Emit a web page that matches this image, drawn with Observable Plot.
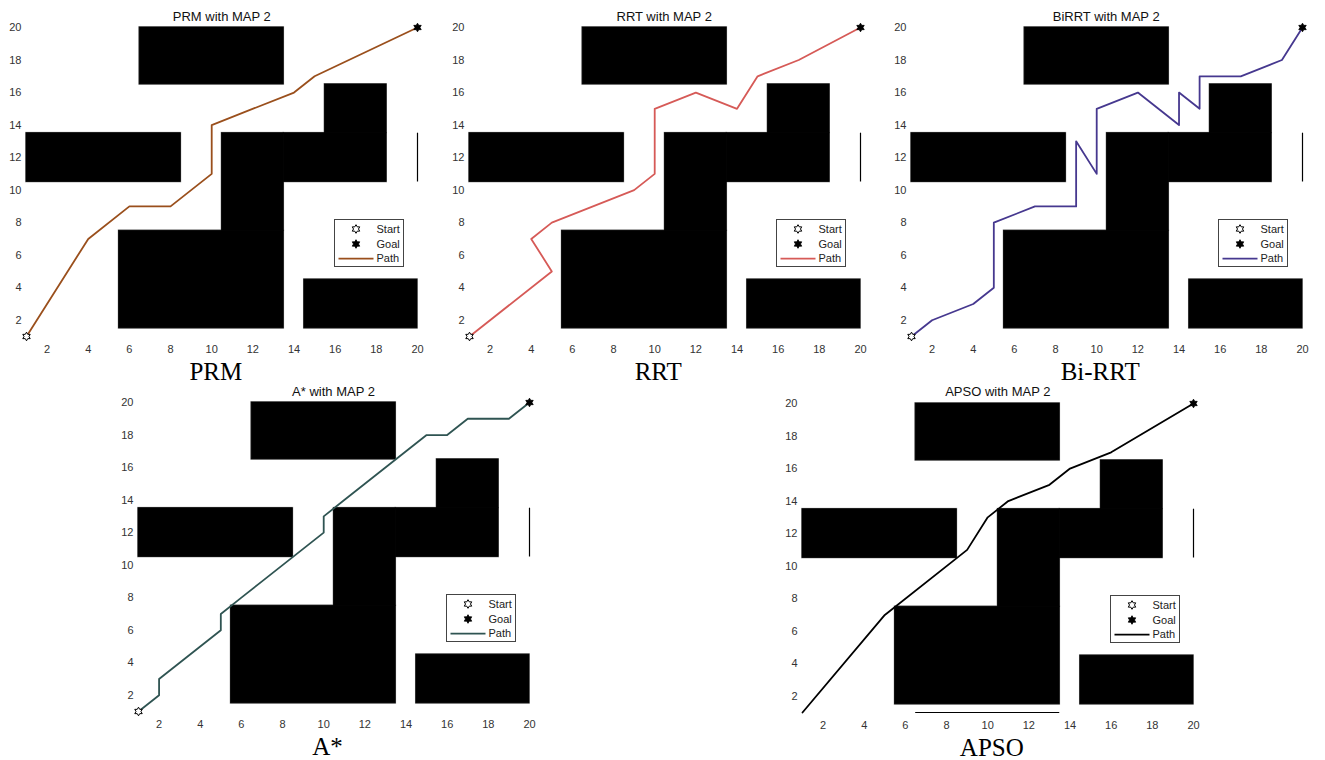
<!DOCTYPE html>
<html><head><meta charset="utf-8">
<script src="https://cdn.jsdelivr.net/npm/d3@7"></script>
<script src="https://cdn.jsdelivr.net/npm/@observablehq/plot@0.6"></script>
<style>
body{margin:0;background:#fff;}
#root{position:relative;width:1325px;height:760px;overflow:hidden;font-family:"Liberation Sans",Arial,sans-serif;}
.panel{position:absolute;}
.title{position:absolute;font-size:13px;line-height:13px;color:#111;white-space:nowrap;transform:translateX(-50%);}
.caption{position:absolute;font-family:"Liberation Serif","Times New Roman",serif;font-size:25px;line-height:25px;color:#000;transform:translateX(-50%);white-space:nowrap;}
.legend{position:absolute;width:68px;height:46px;border:1px solid #444;background:#fff;}
</style></head><body><div id="root"></div>
<script>
// ---- data ----
const xTicks = [2,4,6,8,10,12,14,16,18,20];
const yTicks = [2,4,6,8,10,12,14,16,18,20];

const obstacleX1 = [6.5, 1,    5.5, 10.5, 13.5, 15.5, 14.5];
const obstacleX2 = [13.5, 8.5, 13.5, 13.5, 18.5, 18.5, 20];
const obstacleY1 = [16.5, 10.5, 1.5, 7.5, 10.5, 13.5, 1.5];
const obstacleY2 = [20,  13.5, 7.5, 13.5, 13.5, 16.5, 4.5];

const wallX = [20], wallY1 = [10.5], wallY2 = [13.5];
const apsoBaseX1 = [6.5], apsoBaseX2 = [13.5], apsoBaseY = [1];

const prmX = [1,4,6,8,10,10,14,15,20];
const prmY = [1,7,9,9,11,14,16,17,20];
const rrtX = [1,5,4,5,9,10,10,12,14,15,17,20];
const rrtY = [1,5,7,8,10,11,15,16,15,17,18,20];
const birrtX = [1,2,4,5,5,7,9,9,10,10,12,14,14,15,15,17,19,20];
const birrtY = [1,2,3,4,8,9,9,13,11,15,16,14,16,15,17,17,18,20];
const astarX = [1,2,2,3,4,5,5,6,7,8,9,10,10,11,12,13,14,15,16,17,18,19,20];
const astarY = [1,2,3,4,5,6,7,8,9,10,11,12,13,14,15,16,17,18,18,19,19,19,20];
const apsoX = [1,5,9,10,11,13,14,16,20];
const apsoY = [1,7,11,13,14,15,16,17,20];

const startPt = [1,1], goalPt = [20,20];
const legendLabels = ["Start","Goal","Path"];

const panelNames = ["PRM","RRT","BiRRT","A*","APSO"];
const panelCaptions = ["PRM","RRT","Bi-RRT","A*","APSO"];
const panelColors = ["#9a4f1c","#d65a57","#46388f","#2f5452","#000000"];

// ---- helpers ----
const obstacles = obstacleX1.map((_, i) => ({x1: obstacleX1[i], x2: obstacleX2[i], y1: obstacleY1[i], y2: obstacleY2[i]}));
const walls = wallX.map((x, i) => ({x, y1: wallY1[i], y2: wallY2[i]}));
const bases = apsoBaseX1.map((_, i) => ({x1: apsoBaseX1[i], x2: apsoBaseX2[i], y: apsoBaseY[i]}));
const toPts = (xs, ys) => xs.map((x, i) => ({x, y: ys[i]}));
const paths = [toPts(prmX, prmY), toPts(rrtX, rrtY), toPts(birrtX, birrtY), toPts(astarX, astarY), toPts(apsoX, apsoY)];

const hexagram = {
  draw(ctx, size) {
    const R = Math.sqrt(size / Math.PI), r = R / Math.sqrt(3);
    for (let i = 0; i < 12; i++) {
      const a = Math.PI * i / 6 - Math.PI / 2;
      const rad = i % 2 === 0 ? R : r;
      const px = rad * Math.cos(a), py = rad * Math.sin(a);
      if (i === 0) ctx.moveTo(px, py); else ctx.lineTo(px, py);
    }
    ctx.closePath();
  }
};

// layout (plot-area left/top in page pixels)
const layout = [
  {left: 26.3, top: 27},
  {left: 468.7, top: 27},
  {left: 910.7, top: 27},
  {left: 138, top: 402},
  {left: 802.3, top: 402.5}
];
const IW = 391, IH = 309, ML = 26, MR = 10, MT = 8, MB = 24;

const root = document.getElementById("root");

panelNames.forEach((name, k) => {
  const L = layout[k];
  const color = panelColors[k];
  const marks = [
    Plot.rect(obstacles, {x1: "x1", x2: "x2", y1: "y1", y2: "y2", fill: "none", stroke: "#8f8f8f", strokeWidth: 1.7}),
    Plot.rect(obstacles, {x1: "x1", x2: "x2", y1: "y1", y2: "y2", fill: "black", stroke: "black", strokeWidth: 0.8}),
    Plot.ruleX(walls, {x: "x", y1: "y1", y2: "y2", stroke: "black", strokeWidth: 1.2}),
  ];
  if (name === "APSO") marks.push(Plot.ruleY(bases, {y: "y", x1: "x1", x2: "x2", stroke: "black", strokeWidth: 1.2}));
  marks.push(
    Plot.axisX(xTicks, {tickSize: 0, tickPadding: 9}),
    Plot.axisY(yTicks, {tickSize: 0, tickPadding: 5}),
    Plot.line(paths[k], {x: "x", y: "y", stroke: color, strokeWidth: 1.8})
  );
  if (name !== "APSO") marks.push(Plot.dot([startPt], {x: d => d[0], y: d => d[1], symbol: hexagram, r: 4.3, fill: "white", stroke: "black", strokeWidth: 1}));
  marks.push(Plot.dot([goalPt], {x: d => d[0], y: d => d[1], symbol: hexagram, r: 4.3, fill: "black", stroke: "black", strokeWidth: 0.8}));

  const chart = Plot.plot({
    width: ML + IW + MR, height: MT + IH + MB,
    marginLeft: ML, marginRight: MR, marginTop: MT, marginBottom: MB,
    x: {domain: [1, 20]}, y: {domain: [1, 20]},
    style: {fontFamily: '"Liberation Sans", Arial, sans-serif', fontSize: "11px", color: "#333", background: "transparent", overflow: "visible"},
    marks
  });
  const wrap = document.createElement("div");
  wrap.className = "panel";
  wrap.style.left = (L.left - ML) + "px";
  wrap.style.top = (L.top - MT) + "px";
  wrap.appendChild(chart);
  root.appendChild(wrap);

  // title
  const t = document.createElement("div");
  t.className = "title";
  t.textContent = name + " with MAP 2";
  t.style.left = (L.left + IW / 2) + "px";
  t.style.top = (L.top - 17.3) + "px";
  root.appendChild(t);

  // caption
  const c = document.createElement("div");
  c.className = "caption";
  c.textContent = panelCaptions[k];
  c.style.left = (L.left + IW / 2 - 6) + "px";
  c.style.top = (L.top + 332) + "px";
  root.appendChild(c);

  // legend
  const lg = document.createElement("div");
  lg.className = "legend";
  lg.style.left = (L.left + 307.7) + "px";
  lg.style.top = (L.top + 192.3) + "px";
  const svg = d3.create("svg").attr("width", 68).attr("height", 46)
    .style("position", "absolute").style("left", "0px").style("top", "0px");
  const sym = d3.symbol(hexagram, 4.3 * 4.3 * Math.PI)();
  svg.append("path").attr("d", sym).attr("transform", "translate(21,9)").attr("fill", "white").attr("stroke", "black").attr("stroke-width", 1);
  svg.append("path").attr("d", sym).attr("transform", "translate(21,24)").attr("fill", "black").attr("stroke", "black").attr("stroke-width", 0.8);
  svg.append("line").attr("x1", 3.5).attr("x2", 38.5).attr("y1", 38.7).attr("y2", 38.7).attr("stroke", color).attr("stroke-width", 1.8);
  legendLabels.forEach((lab, i) => {
    svg.append("text").attr("x", 41.5).attr("y", 9 + i * 14.8).attr("dy", "0.35em")
      .attr("font-family", '"Liberation Sans", Arial, sans-serif').attr("font-size", 11).attr("fill", "#222").text(lab);
  });
  lg.appendChild(svg.node());
  root.appendChild(lg);
});
</script></body></html>
